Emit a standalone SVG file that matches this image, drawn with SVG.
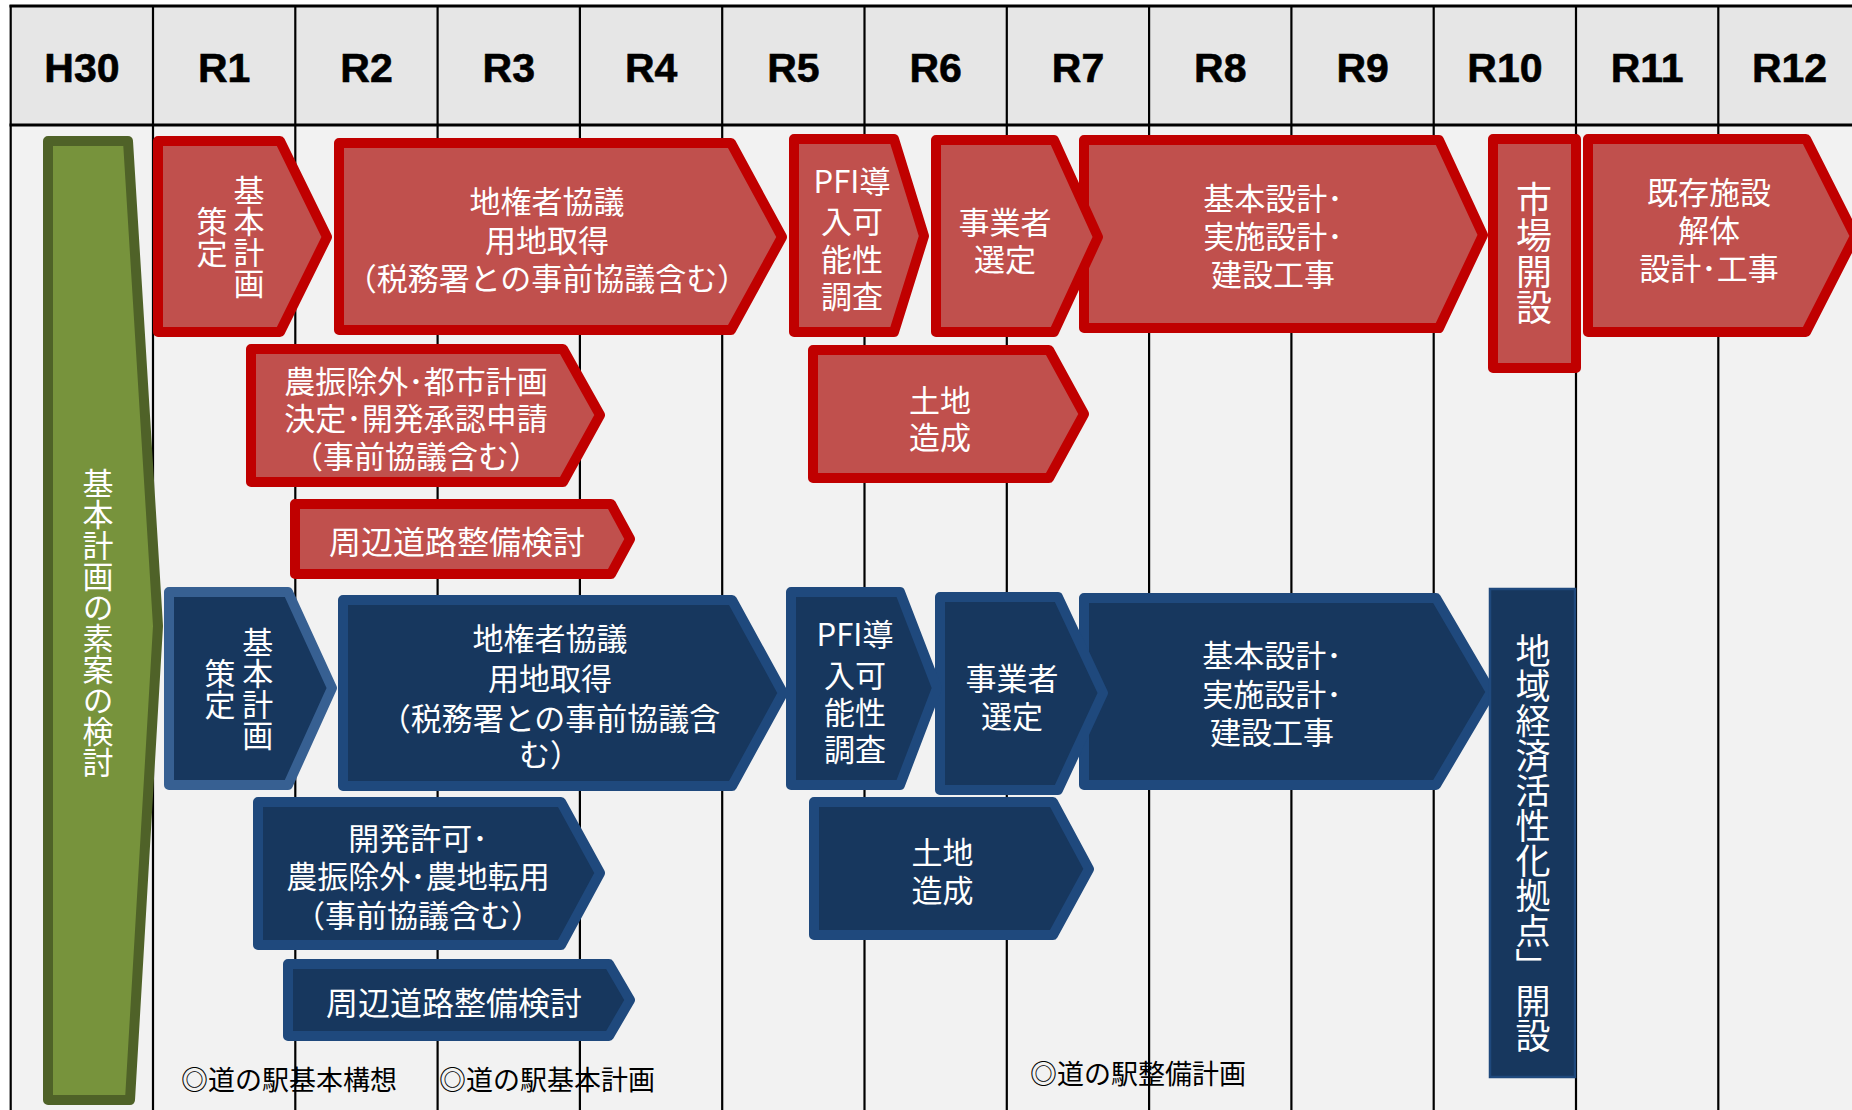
<svg xmlns="http://www.w3.org/2000/svg" width="1852" height="1110" viewBox="0 0 1852 1110">
<style>
.hdr{font-family:"Liberation Sans",Arial,sans-serif;font-weight:bold;font-size:41px;fill:#000;stroke:#000;stroke-width:0.6;text-anchor:middle}
.jw{font-family:"Noto Sans CJK JP","Noto Sans",sans-serif;font-size:31px;fill:#fff;text-anchor:middle;dominant-baseline:central}
.v{writing-mode:vertical-rl}
.note{font-family:"Noto Sans CJK JP","Noto Sans",sans-serif;font-size:27px;fill:#000;dominant-baseline:central}
.red{fill:#c0504d;stroke:#c00000;stroke-width:10;stroke-linejoin:round}
.blue{fill:#17375e;stroke:#1f497d;stroke-width:10;stroke-linejoin:round}
.blue2{fill:#17375e;stroke:#376092;stroke-width:10;stroke-linejoin:round}
.green{fill:#77933c;stroke:#4f6228;stroke-width:10;stroke-linejoin:round}
.vl{stroke:#000;stroke-width:2.2}
.hl{stroke:#000;stroke-width:2.8}
</style>
<rect x="0" y="0" width="1852" height="1110" fill="#ffffff"/>
<g id="table">
<rect x="10.7" y="6" width="1842" height="119" fill="#e6e6e6"/>
<rect x="10.7" y="125" width="1842" height="985" fill="#f2f2f2"/>
<line class="vl" x1="10.7" y1="5" x2="10.7" y2="1110"/>
<line class="vl" x1="153" y1="5" x2="153" y2="1110"/>
<line class="vl" x1="295.3" y1="5" x2="295.3" y2="1110"/>
<line class="vl" x1="437.6" y1="5" x2="437.6" y2="1110"/>
<line class="vl" x1="579.9" y1="5" x2="579.9" y2="1110"/>
<line class="vl" x1="722.2" y1="5" x2="722.2" y2="1110"/>
<line class="vl" x1="864.5" y1="5" x2="864.5" y2="1110"/>
<line class="vl" x1="1006.8" y1="5" x2="1006.8" y2="1110"/>
<line class="vl" x1="1149.1" y1="5" x2="1149.1" y2="1110"/>
<line class="vl" x1="1291.4" y1="5" x2="1291.4" y2="1110"/>
<line class="vl" x1="1433.7" y1="5" x2="1433.7" y2="1110"/>
<line class="vl" x1="1576" y1="5" x2="1576" y2="1110"/>
<line class="vl" x1="1718.3" y1="5" x2="1718.3" y2="1110"/>
<line class="hl" x1="9.5" y1="6" x2="1852" y2="6"/>
<line class="hl" x1="9.5" y1="125" x2="1852" y2="125"/>
<text class="hdr" x="81.9" y="82">H30</text>
<text class="hdr" x="224.2" y="82">R1</text>
<text class="hdr" x="366.5" y="82">R2</text>
<text class="hdr" x="508.8" y="82">R3</text>
<text class="hdr" x="651.1" y="82">R4</text>
<text class="hdr" x="793.4" y="82">R5</text>
<text class="hdr" x="935.7" y="82">R6</text>
<text class="hdr" x="1078" y="82">R7</text>
<text class="hdr" x="1220.3" y="82">R8</text>
<text class="hdr" x="1362.6" y="82">R9</text>
<text class="hdr" x="1504.9" y="82">R10</text>
<text class="hdr" x="1647.2" y="82">R11</text>
<text class="hdr" x="1789.5" y="82">R12</text>
</g>
<g id="connectors"></g>
<g id="n-green">
<polygon class="green" points="48,141 128,141 158,626 130,1100 48,1100"/>
<text class="jw v" x="98" y="623">基本計画の素案の検討</text>
</g>
<g id="r-kihon">
<polygon class="red" points="158,141 280,141 327,237 280,332 158,332"/>
<text class="jw v"><tspan x="249" y="237">基本計画</tspan><tspan x="212" y="237">策定</tspan></text>
</g>
<g id="r-chiken">
<polygon class="red" points="339,143 731,143 782,237 731,330 339,330"/>
<text class="jw"><tspan x="547" y="199">地権者協議</tspan><tspan x="547" y="238">用地取得</tspan><tspan x="547" y="276">（税務署との事前協議含む）</tspan></text>
</g>
<g id="r-pfi">
<polygon class="red" points="794,139 894,139 924,236 894,332 794,332"/>
<text class="jw"><tspan x="852" y="179">PFI導</tspan><tspan x="852" y="219">入可</tspan><tspan x="852" y="257">能性</tspan><tspan x="852" y="294">調査</tspan></text>
</g>
<g id="r-sekkei">
<polygon class="red" points="1084,140 1439,140 1483,235 1439,328 1084,328"/>
<text class="jw"><tspan x="1273" y="196">基本設計･</tspan><tspan x="1273" y="234">実施設計･</tspan><tspan x="1273" y="272">建設工事</tspan></text>
</g>
<g id="r-jigyosha">
<polygon class="red" points="936,140 1054,140 1098,237 1054,332 936,332"/>
<text class="jw"><tspan x="1005" y="220">事業者</tspan><tspan x="1005" y="257">選定</tspan></text>
</g>
<g id="r-ichiba">
<rect class="red" x="1493" y="139" width="83" height="229"/>
<text class="jw v" x="1534" y="253" style="font-size:36px">市場開設</text>
</g>
<g id="r-kaitai">
<polygon class="red" points="1588,139 1806,139 1855,236 1806,332 1588,332"/>
<text class="jw"><tspan x="1709" y="189.5">既存施設</tspan><tspan x="1709" y="227.5">解体</tspan><tspan x="1709" y="265.5">設計･工事</tspan></text>
</g>
<g id="r-noshin">
<polygon class="red" points="251,349 563,349 600,415 563,482 251,482"/>
<text class="jw"><tspan x="416" y="379">農振除外･都市計画</tspan><tspan x="416" y="416">決定･開発承認申請</tspan><tspan x="416" y="454">（事前協議含む）</tspan></text>
</g>
<g id="r-doro">
<polygon class="red" points="295,504 611,504 630,539 611,574 295,574"/>
<text class="jw" x="457" y="540" style="font-size:32px">周辺道路整備検討</text>
</g>
<g id="r-zosei">
<polygon class="red" points="813,350 1049,350 1084,414 1049,478 813,478"/>
<text class="jw"><tspan x="940" y="398">土地</tspan><tspan x="940" y="435">造成</tspan></text>
</g>
<g id="b-kihon">
<polygon class="blue2" points="169,592 288,592 332,688 288,785 169,785"/>
<text class="jw v"><tspan x="257.7" y="689">基本計画</tspan><tspan x="220" y="689">策定</tspan></text>
</g>
<g id="b-chiken">
<polygon class="blue" points="343,600 732,600 783,693 732,786 343,786"/>
<text class="jw"><tspan x="550" y="636">地権者協議</tspan><tspan x="550" y="676">用地取得</tspan><tspan x="550" y="716">（税務署との事前協議含</tspan><tspan x="550" y="752">む）</tspan></text>
</g>
<g id="b-sekkei">
<polygon class="blue" points="1084,598 1436,598 1491,692 1436,785 1084,785"/>
<text class="jw"><tspan x="1272" y="653">基本設計･</tspan><tspan x="1272" y="692">実施設計･</tspan><tspan x="1272" y="730">建設工事</tspan></text>
</g>
<g id="b-jigyosha">
<polygon class="blue" points="940,597 1058,597 1103,693 1058,790 940,790"/>
<text class="jw"><tspan x="1012" y="676">事業者</tspan><tspan x="1012" y="714">選定</tspan></text>
</g>
<g id="b-pfi">
<polygon class="blue" points="791,592 900,592 937,688 900,785 791,785"/>
<text class="jw"><tspan x="855" y="632">PFI導</tspan><tspan x="855" y="673">入可</tspan><tspan x="855" y="710">能性</tspan><tspan x="855" y="747">調査</tspan></text>
</g>
<g id="b-kyoten">
<rect x="1490" y="589" width="85" height="488" fill="#17375e" stroke="#1f497d" stroke-width="2.5"/>
<text class="jw v" x="1533" y="843" style="font-size:35px">地域経済活性化拠点」開設</text>
</g>
<g id="b-kaihatsu">
<polygon class="blue" points="258,802 561,802 600,873 561,945 258,945"/>
<text class="jw"><tspan x="418" y="836">開発許可･</tspan><tspan x="418" y="874">農振除外･農地転用</tspan><tspan x="418" y="913">（事前協議含む）</tspan></text>
</g>
<g id="b-doro">
<polygon class="blue" points="288,964 609,964 630,1000 609,1036 288,1036"/>
<text class="jw" x="454" y="1000.5" style="font-size:32px">周辺道路整備検討</text>
</g>
<g id="b-zosei">
<polygon class="blue" points="814,802 1053,802 1089,869 1053,935 814,935"/>
<text class="jw"><tspan x="942.5" y="849.5">土地</tspan><tspan x="942.5" y="887.5">造成</tspan></text>
</g>
<g id="notes">
<text class="note" x="181" y="1078">◎道の駅基本構想</text>
<text class="note" x="439" y="1078">◎道の駅基本計画</text>
<text class="note" x="1030" y="1072">◎道の駅整備計画</text>
</g>
</svg>
